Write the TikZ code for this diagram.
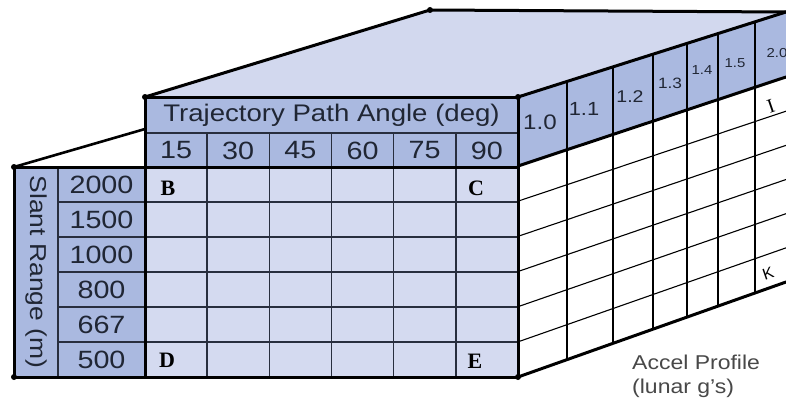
\documentclass[tikz,border=0pt]{standalone}
\usepackage{fontspec}
\setmainfont{Liberation Sans}
\newfontfamily\serifb{Liberation Serif}
\definecolor{hdr}{RGB}{170,185,224}
\definecolor{cellc}{RGB}{212,218,240}
\definecolor{topf}{RGB}{210,216,238}
\definecolor{ink}{RGB}{32,38,52}
\definecolor{gridc}{RGB}{40,46,62}
\definecolor{graytxt}{RGB}{72,72,72}
\newcommand\sx[1]{\scalebox{1.15}[1]{#1}}
\newcommand\fs[1]{\fontsize{#1}{#1}\selectfont}
\begin{document}
\begin{tikzpicture}[x=1pt,y=-1pt,
  heavy/.style={line width=3pt,black,line cap=round,line join=round},
  inner/.style={line width=1.5pt,gridc},
  thin/.style={line width=1.1pt,black},
  txt/.style={inner sep=0pt,text=ink},
  lbl/.style={inner sep=0pt,text=black,font=\serifb\bfseries\fs{22}},
  dot/.style={black}]
\useasboundingbox (0,0) rectangle (786,404);
% key corners
\coordinate (FL) at (14,167);
\coordinate (FLB) at (14,377);
\coordinate (HT) at (145,97);
\coordinate (HTR) at (518,97);
\coordinate (HBR) at (518,166);
\coordinate (BK) at (430,10);
\coordinate (BKR) at (786,12);
\coordinate (SB) at (786,77);
\coordinate (SR) at (786,282);
\coordinate (FR) at (518,377);
\coordinate (HL) at (145,129);
\coordinate (C1) at (145,167);
\coordinate (C2) at (518,167);
\coordinate (C3) at (145,377);
% faces
\fill[topf] (HT) -- (BK) -- (BKR) -- (HTR) -- cycle;
\fill[hdr] (HTR) -- (BKR) -- (SB) -- (HBR) -- cycle;
\fill[white] (HBR) -- (SB) -- (SR) -- (FR) -- cycle;
\fill[hdr] (FL) rectangle (C3);
\fill[hdr] (HT) rectangle (C2);
\fill[cellc] (C1) rectangle (FR);
% front grid
\draw[inner] (58,167) -- (58,377);
\draw[inner] (145,133) -- (518,133);
\foreach \y in {202,237,272,307,342} \draw[inner] (58,\y) -- (518,\y);
\foreach \x in {207.2,269.3,331.5,393.7,455.8} \draw[inner] (\x,133) -- (\x,377);
% side grid
\foreach \k in {1,...,5} \draw[thin] (518,{166+35.17*\k}) -- (786,{77+34.17*\k});
\foreach \x in {613,653,687,718,755}
  \draw[thin] (\x,{97-(\x-518)/268*85}) -- (\x,{377-(\x-518)/268*95});
\draw[line width=2.4pt] (567,{97-49/268*85}) -- (567,{377-49/268*95});
% heavy outlines
\draw[heavy] (FL) -- (FLB) -- (FR) -- (HTR) -- (HT) -- (C3);
\draw[heavy] (FL) -- (C1) -- (C2);
\draw[heavy] (HTR) -- (BKR);
\draw[heavy] (HBR) -- (SB);
\draw[heavy] (FR) -- (SR);
\draw[heavy] (HT) -- (BK) -- (BKR);
\draw[line width=2.6pt,line cap=round] (FL) -- (HL);
\foreach \p in {FL,FLB,HT,BK,FR,HTR} \fill[dot] (\p) circle (3);
% texts
\node[txt,font=\fs{24}] (title) at (331.5,115) {\sx{Trajectory Path Angle (deg)}};
\foreach \t/\x [count=\i] in {15/176.1,30/238.2,45/300.4,60/362.6,75/424.7,90/486.9}
  \node[txt,font=\fs{25}] (ang\i) at (\x,150.5) {\sx{\t}};
\foreach \t/\y [count=\i] in {2000/184.5,1500/219.5,1000/254.5,800/289.5,667/324.5,500/359.5}
  \node[txt,font=\fs{25}] (rng\i) at (101.5,\y) {\sx{\t}};
\node[txt,font=\fs{23},rotate=-90] (slant) at (36,272) {\sx{Slant Range (m)}};
\node[txt,font=\fs{21}] (g10) at (540,122) {\sx{1.0}};
\node[txt,font=\fs{19}] (g11) at (584,109) {\sx{1.1}};
\node[txt,font=\fs{17}] (g12) at (630,97) {\sx{1.2}};
\node[txt,font=\fs{15}] (g13) at (670,83) {\sx{1.3}};
\node[txt,font=\fs{13}] (g14) at (702,70) {\sx{1.4}};
\node[txt,font=\fs{13}] (g15) at (735,63) {\sx{1.5}};
\node[txt,font=\fs{13}] (g20) at (777,53) {\sx{2.0}};
\node[lbl] (B) at (168,188) {B};
\node[lbl] (C) at (476,188) {C};
\node[lbl] (D) at (167,360) {D};
\node[lbl] (E) at (475,361) {E};
\node[inner sep=0pt,font=\serifb\fs{20},rotate=19] (I) at (771,106) {I};
\node[inner sep=0pt,font=\fs{16},rotate=19] (K) at (768,274) {K};
\node[inner sep=0pt,text=graytxt,font=\fs{20},anchor=west] (acc) at (632,362) {\sx{Accel Profile}};
\node[inner sep=0pt,text=graytxt,font=\fs{20},anchor=west] (lun) at (632,388) {\sx{(lunar g's)}};
\end{tikzpicture}
\end{document}
